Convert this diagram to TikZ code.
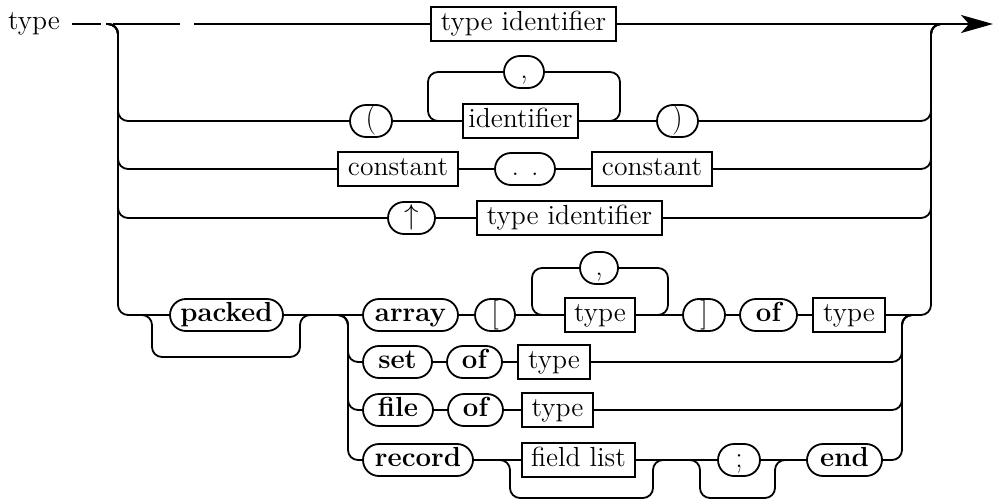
\documentclass[tikz,border=0pt]{standalone}
\usepackage{amsmath}
\usepackage{tikz}
\usetikzlibrary{arrows.meta}

\begin{document}
\begin{tikzpicture}[x=0.5pt, y=-0.5pt, line width=0.9pt,
  every node/.style={font=\fontsize{13.8}{16}\selectfont, text height=9.5pt, text depth=2.8pt, inner sep=0pt},
  nt/.style={draw, rectangle, minimum height=17pt, minimum width=#1},
  tm/.style={draw, rounded corners=8pt, minimum height=16pt, minimum width=#1},
  kw/.style={tm=#1, font=\fontsize{13.8}{16}\selectfont\bfseries},
  sym/.style={tm=#1, font=\fontsize{15}{16}\selectfont, text height=11pt, text depth=4pt},
  rc/.style={rounded corners=5pt}]
\useasboundingbox (0,0) rectangle (995,502);

\node (lhs) at (34,23) {type};
\node[nt=92.5pt] (tid1) at (523.5,24) {type identifier};

\node[sym=21pt] (lpar) at (371,121) {(};
\node[sym=20pt] (comma1) at (524,72) {,};
\node[nt=57.5pt] (ident) at (520.5,121) {identifier};
\node[sym=20.5pt] (rpar) at (677.5,121) {)};

\node[nt=60pt] (const1) at (398,169) {constant};
\node[sym=30pt] (dots) at (525,169) {.\hspace{6pt}.};
\node[nt=60pt] (const2) at (652,169) {constant};

\node[sym=23.5pt] (ptr) at (411.5,218) {$\uparrow$};
\node[nt=92.5pt] (tid2) at (569.5,218) {type identifier};

\node[kw=56.5pt] (packed) at (226.5,315) {packed};
\node[kw=47.5pt] (array) at (410.5,315) {array};
\node[sym=20pt] (lbrk) at (495,315) {[};
\node[sym=19pt] (comma2) at (599,268) {,};
\node[nt=35pt] (type1) at (600,315) {type};
\node[sym=21pt] (rbrk) at (704,315) {]};
\node[kw=28.5pt] (of1) at (768.5,315) {of};
\node[nt=36pt] (type2) at (849,315) {type};

\node[kw=34.5pt] (set) at (397.5,362) {set};
\node[kw=27.5pt] (of2) at (474.5,362) {of};
\node[nt=36pt] (type3) at (554,362) {type};

\node[kw=35pt] (file) at (398,410) {file};
\node[kw=27.5pt] (of3) at (475.5,410) {of};
\node[nt=35.5pt] (type4) at (557.5,410) {type};

\node[kw=55pt] (record) at (418,460) {record};
\node[nt=56.5pt] (flist) at (578.5,460) {field list};
\node[sym=21pt] (semi) at (739,460) {;};
\node[kw=37.5pt] (end) at (844.5,460) {end};

% trunks and corner points
\coordinate (in) at (72,24);
\coordinate (cut) at (194,24);
\coordinate (split) at (106,24);
\coordinate (L) at (118,0);
\coordinate (R) at (931,0);
\coordinate (join) at (945,24);
\coordinate (out) at (993,24);
\coordinate (lp1) at (428,0);
\coordinate (rp1) at (620,0);
\coordinate (lp2) at (532,0);
\coordinate (rp2) at (668,0);
\coordinate (pkin) at (130,315);
\coordinate (pkL) at (152,357);
\coordinate (pkR) at (300,357);
\coordinate (pkout) at (322,315);
\coordinate (gsplit) at (328,315);
\coordinate (GL) at (348,0);
\coordinate (GR) at (902,0);
\coordinate (gjoin) at (916,315);
\coordinate (fbin) at (485,460);
\coordinate (fbL) at (510,498);
\coordinate (fbR) at (653,498);
\coordinate (fbout) at (667,460);
\coordinate (sbin) at (688,460);
\coordinate (sbL) at (700,498);
\coordinate (sbR) at (775,498);
\coordinate (sbout) at (788,460);

% main line
\draw[dash pattern=on 14.5pt off 6pt on 33.5pt off 7pt] (in) -- (cut);
\draw (cut) -- (tid1);
\draw[-{Stealth[length=16pt,width=9pt,inset=4pt]}] (tid1) -- (out);

\foreach \n in {lpar,const1,ptr,packed}
  \draw[rc] (split) -| (L |- \n) -- (\n);
\foreach \n in {rpar,const2,tid2,type2}
  \draw[rc] (\n) -| (R |- tid1) -- (join);

\draw (lpar) -- (ident) -- (rpar);
\draw[rc] (ident) -| (rp1 |- comma1) -- (comma1);
\draw[rc] (comma1) -| (lp1 |- ident) -- (ident);

\draw (const1) -- (dots) -- (const2);
\draw (ptr) -- (tid2);

\draw (packed) -- (array) -- (lbrk) -- (type1) -- (rbrk) -- (of1) -- (type2);
\draw[rc] (type1) -| (rp2 |- comma2) -- (comma2);
\draw[rc] (comma2) -| (lp2 |- type1) -- (type1);
\draw[rc] (pkin) -| (pkL) -- (pkR) |- (pkout);

% structured types
\foreach \n in {set,file,record}
  \draw[rc] (gsplit) -| (GL |- \n) -- (\n);
\draw (set) -- (of2) -- (type3);
\draw (file) -- (of3) -- (type4);
\draw (record) -- (flist) -- (semi) -- (end);
\draw[rc] (fbin) -| (fbL) -- (fbR) |- (fbout);
\draw[rc] (sbin) -| (sbL) -- (sbR) |- (sbout);
\foreach \n in {type3,type4,end}
  \draw[rc] (\n) -| (GR |- type2) -- (gjoin);
\end{tikzpicture}
\end{document}
